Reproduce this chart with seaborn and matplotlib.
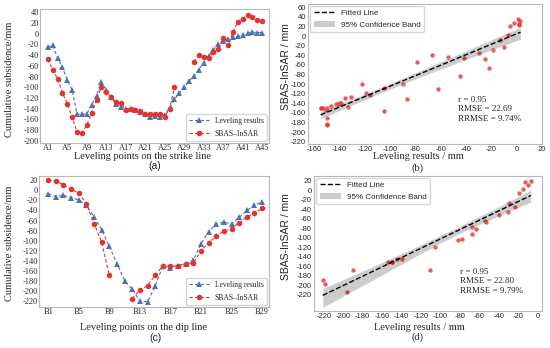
import numpy as np
import pandas as pd
import matplotlib
matplotlib.use('Agg')
import matplotlib.pyplot as plt
import seaborn as sns
from matplotlib.lines import Line2D
from matplotlib.patches import Patch
from matplotlib.collections import PolyCollection

# strike line (A1..A45)
strike_points = [f'A{i}' for i in range(1, 46)]
strike_leveling = [-25, -22, -45, -62, -87, -105, -150, -150, -150, -133,
                   -116, -90, -105, -119, -131, -136, -141, -140, -143, -147,
                   -150, -155, -153, -155, -151, -139, -122, -111, -100, -88,
                   -79, -67, -54, -42, -30, -19, -13, -10, -7, -5,
                   -2, 1, 3, 2, 2]
strike_sbas = [-48, -67, -84, -110, -131, -156, -184, -186, -170, -148,
               -123, -100, -109, -119, -127, -130, -142, -140, -142, -145,
               -150, -149, -149, -149, -155, -140, -100, np.nan, np.nan, np.nan,
               -53, -39, -43, -45, -35, -28, -9, -22, 3, 22,
               28, 35, 31, 26, 23]

# dip line (B1..B29)
dip_points = [f'B{i}' for i in range(1, 30)]
dip_leveling = [-7, -13, -10, -15, -19, -29, -53, -78, -111, -145,
                -179, -196, -219, -221, -190, -150, -154, -150, -145, -139,
                -106, -82, -67, -63, -67, -54, -40, -30, -23]
dip_sbas = [20, 18, 11, 2, -6, -27, -66, -103, -168, np.nan,
            np.nan, -215, -197, -189, -168, -150, -150, -150, -145, -144,
            -120, -104, -91, -81, -77, -64, -53, -45, -36]

stats_b = ['r = 0.95', 'RMSE = 22.69', 'RRMSE = 9.74%']
stats_d = ['r = 0.95', 'RMSE = 22.80', 'RRMSE = 9.79%']

BLUE = '#4c72b0'
RED = '#e3342f'
SERIF = 'Liberation Serif'
SANS = 'Liberation Sans'
W, H = 550, 348

sns.set_style('white')
plt.rcParams['font.family'] = [SANS, 'DejaVu Sans']
plt.rcParams['axes.edgecolor'] = '#b8b8b8'
plt.rcParams['axes.unicode_minus'] = False

fig = plt.figure(figsize=(W / 100, H / 100), dpi=100)


def box(l, t, r, b):
    return [l / W, 1 - b / H, (r - l) / W, (b - t) / H]


def ftext(x, y, s, **kw):
    fig.text(x / W, 1 - y / H, s, ha='center', va='center', **kw)


def line_panel(ax, labels, lev, sbas, xlim, ylim, yticks):
    n = len(labels)
    parts = []
    for name, vals in (('Leveling results', lev), ('SBAS\u2013InSAR', sbas)):
        vals = np.asarray(vals, dtype=float)
        parts.append(pd.DataFrame({'idx': np.arange(n), 'value': vals,
                                   'series': name,
                                   'seg': np.cumsum(np.isnan(vals))}))
    df = pd.concat(parts, ignore_index=True)
    sns.lineplot(data=df, x='idx', y='value', hue='series', style='series',
                 units='seg', estimator=None, palette=[BLUE, RED],
                 markers=['^', 'o'], dashes=[(3, 2), (3, 2)],
                 markersize=4, markeredgewidth=0, linewidth=0.8,
                 legend=False, ax=ax)
    ax.set_xlim(*xlim)
    ax.set_ylim(*ylim)
    ax.set_xticks(range(0, n, 4))
    ax.set_xticklabels(labels[::4])
    ax.set_yticks(yticks)
    ax.set_xlabel('')
    ax.set_ylabel('')
    for t in ax.get_xticklabels() + ax.get_yticklabels():
        t.set_fontfamily(SERIF)
        t.set_fontsize(6)
    ax.tick_params(length=0, pad=0.5)
    handles = [Line2D([], [], color=BLUE, ls=(0, (3, 2)), lw=0.8, marker='^', ms=4, mew=0),
               Line2D([], [], color=RED, ls=(0, (3, 2)), lw=0.8, marker='o', ms=4, mew=0)]
    ax.legend(handles, ['Leveling results', 'SBAS\u2013InSAR'], loc='lower right',
              prop={'family': SERIF, 'size': 5.5}, handlelength=2.6,
              borderaxespad=0.3, labelspacing=0.6)


def reg_panel(ax, lev, sbas, xlim, ylim, xticks, yticks, stats, ty):
    sns.regplot(x=np.asarray(lev, float), y=np.asarray(sbas, float), ax=ax,
                ci=95, seed=0, truncate=True,
                scatter_kws=dict(color=RED, s=10, linewidths=0),
                line_kws=dict(color='black', linestyle='--', linewidth=1))
    for c in ax.collections:
        if isinstance(c, PolyCollection):
            c.set_alpha(0.2)
    ax.set_xlim(*xlim)
    ax.set_ylim(*ylim)
    ax.set_xticks(xticks)
    ax.set_yticks(yticks)
    ax.set_xlabel('')
    ax.set_ylabel('')
    for t in ax.get_xticklabels() + ax.get_yticklabels():
        t.set_fontfamily(SANS)
        t.set_fontsize(5.5)
    ax.tick_params(length=0, pad=1.5)
    handles = [Line2D([], [], color='black', ls='--', lw=1),
               Patch(facecolor='#cccccc', edgecolor='none')]
    ax.legend(handles, ['Fitted Line', '95% Confidence Band'], loc='upper left',
              prop={'family': SANS, 'size': 5.8}, handlelength=2.6,
              borderaxespad=0.3)
    ax.text(0.64, ty, '\n'.join(stats), transform=ax.transAxes, ha='left',
            va='bottom', family=SERIF, fontsize=6.5, linespacing=1.25)


# (a)
ax_a = fig.add_axes(box(40, 9, 269, 143))
line_panel(ax_a, strike_points, strike_leveling, strike_sbas,
           (-1.6, 45.4), (-204, 46), range(-200, 41, 20))
ftext(10, 79, 'Cumulative subsidence/mm', rotation=90, family=SERIF, fontsize=7.5)
ftext(142, 157, 'Leveling points on the strike line', family=SERIF, fontsize=7.5)
ftext(155, 166, '(a)', family=SANS, fontsize=7.5)

# (b)
ax_b = fig.add_axes(box(308, 4, 542, 144))
reg_panel(ax_b, strike_leveling, strike_sbas, (-165, 20), (-225, 67),
          range(-160, 21, 20), range(-220, 61, 20), stats_b, 0.15)
ftext(286, 67, 'SBAS-InSAR / mm', rotation=90, family=SANS, fontsize=7.5)
ftext(418, 157, 'Leveling results / mm', family=SERIF, fontsize=7.5)
ftext(418, 168, '(b)', family=SERIF, fontsize=7.5)

# (c)
ax_c = fig.add_axes(box(39, 176, 269, 307))
line_panel(ax_c, dip_points, dip_leveling, dip_sbas,
           (-1.2, 28.9), (-231, 28), range(-220, 21, 20))
ftext(10, 243, 'Cumulative subsidence/mm', rotation=90, family=SERIF, fontsize=7.5)
ftext(144, 327, 'Leveling points on the dip line', family=SERIF, fontsize=7.5)
ftext(155, 338, '(c)', family=SANS, fontsize=7.5)

# (d)
ax_d = fig.add_axes(box(314, 176, 542, 311))
reg_panel(ax_d, dip_leveling, dip_sbas, (-230, 4.5), (-254, 30),
          range(-220, 1, 20), range(-220, 21, 20), stats_d, 0.12)
ftext(286, 237, 'SBAS-InSAR / mm', rotation=90, family=SANS, fontsize=7.5)
ftext(419, 327, 'Leveling results / mm', family=SERIF, fontsize=7.5)
ftext(418, 337, '(d)', family=SERIF, fontsize=7.5)

fig.savefig('out.png', dpi=100)
